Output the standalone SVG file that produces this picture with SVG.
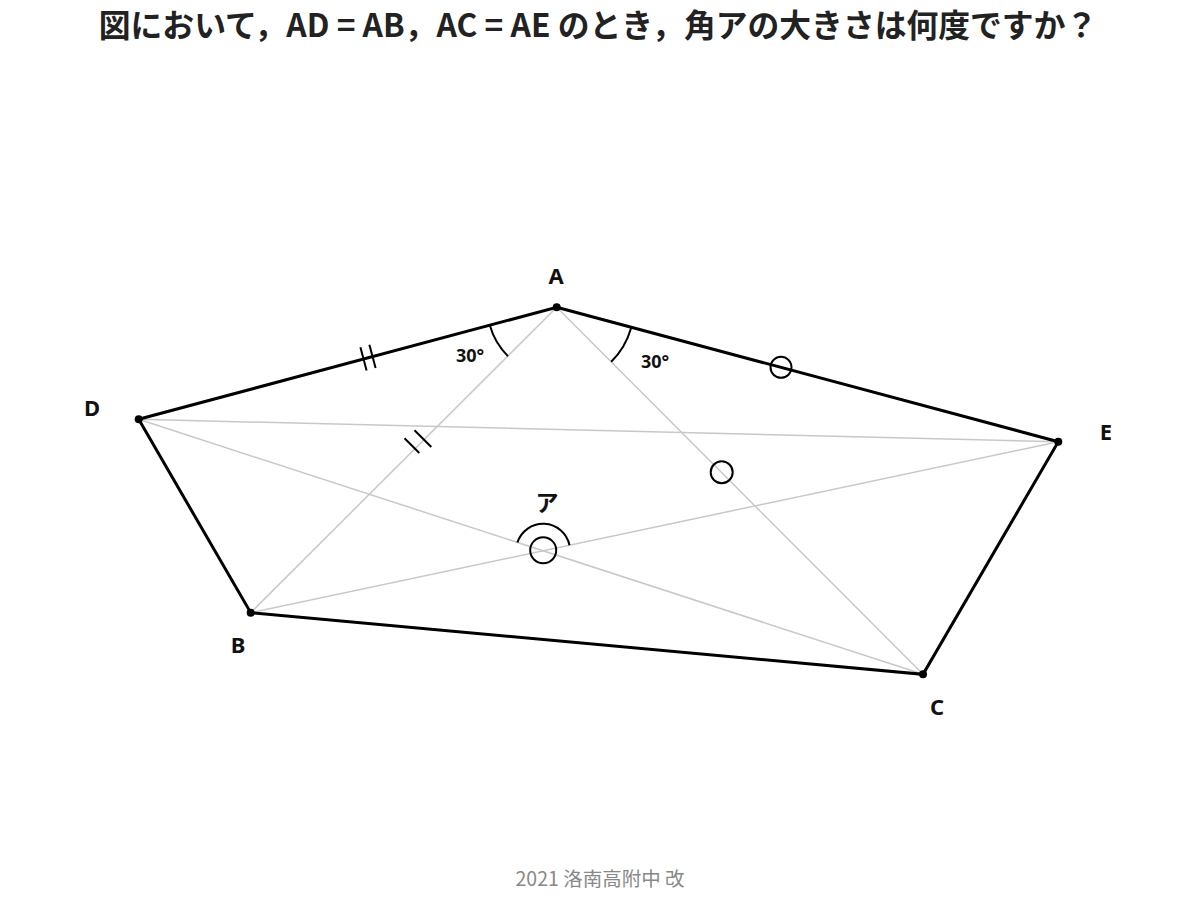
<svg xmlns="http://www.w3.org/2000/svg" width="1200" height="902" viewBox="0 0 1200 902">
<style>
.title{font-family:"Noto Sans CJK JP","Noto Sans",sans-serif;font-weight:bold;font-size:31.8px;fill:#222;text-anchor:middle}
.lbl{font-family:"Noto Sans","Noto Sans CJK JP",sans-serif;font-weight:bold;font-size:22px;fill:#111;text-anchor:middle}
.ang{font-family:"Noto Sans","Noto Sans CJK JP",sans-serif;font-weight:bold;font-size:18px;fill:#111;text-anchor:middle}
.src{font-family:"Noto Sans CJK JP","Noto Sans",sans-serif;font-size:19.5px;fill:#888;text-anchor:middle}
.edge{stroke:#000;stroke-width:3;fill:none;stroke-linecap:round}
.diag{stroke:#c8c8c8;stroke-width:1.5;fill:none}
.mark{stroke:#000;stroke-width:2;fill:none}
.pt{fill:#000}
</style>
<rect width="1200" height="902" fill="#fff"/>
<text class="title" x="598" y="37">図において，AD = AB，AC = AE のとき，角アの大きさは何度ですか？</text>
<g id="connectors">
<line class="diag" x1="556.7" y1="307.3" x2="250.7" y2="612.7"/>
<line class="diag" x1="556.7" y1="307.3" x2="923" y2="674.3"/>
<line class="diag" x1="138.7" y1="419.3" x2="923" y2="674.3"/>
<line class="diag" x1="138.7" y1="419.3" x2="1058.3" y2="441.7"/>
<line class="diag" x1="250.7" y1="612.7" x2="1058.3" y2="441.7"/>
<polygon class="edge" points="556.7,307.3 1058.3,441.7 923,674.3 250.7,612.7 138.7,419.3"/>
</g>
<g id="marks">
<path class="mark" d="M489.9,325.6 A69,69 0 0 0 507.9,356.1"/>
<path class="mark" d="M631,328.2 A77,77 0 0 1 611.2,361.8"/>
<path class="mark" d="M517.4,542.5 A27,27 0 0 1 569.5,545.2"/>
<circle class="mark" cx="543.2" cy="550.3" r="13"/>
<circle class="mark" cx="781" cy="367.3" r="10.5"/>
<circle class="mark" cx="721.7" cy="472.3" r="11"/>
<line class="mark" x1="360.4" y1="347.2" x2="366.6" y2="370.4"/>
<line class="mark" x1="369.4" y1="344.8" x2="375.6" y2="368"/>
<line class="mark" x1="404.5" y1="438.2" x2="419.3" y2="453"/>
<line class="mark" x1="414.5" y1="430.2" x2="431.3" y2="447"/>
</g>
<g id="A"><circle class="pt" cx="556.7" cy="307.3" r="4"/><text class="lbl" x="556" y="284">A</text></g>
<g id="D"><circle class="pt" cx="138.7" cy="419.3" r="4"/><text class="lbl" x="92" y="416">D</text></g>
<g id="E"><circle class="pt" cx="1058.3" cy="441.7" r="4"/><text class="lbl" x="1106" y="440">E</text></g>
<g id="B"><circle class="pt" cx="250.7" cy="612.7" r="4"/><text class="lbl" x="238" y="653">B</text></g>
<g id="C"><circle class="pt" cx="923" cy="674.3" r="4"/><text class="lbl" x="937" y="715">C</text></g>
<text class="ang" x="470" y="362">30°</text>
<text class="ang" x="655" y="368">30°</text>
<text class="lbl" x="547" y="511" style="font-family:'Noto Sans CJK JP',sans-serif;font-size:23px">ア</text>
<text class="src" x="600" y="886">2021 洛南高附中 改</text>
</svg>
